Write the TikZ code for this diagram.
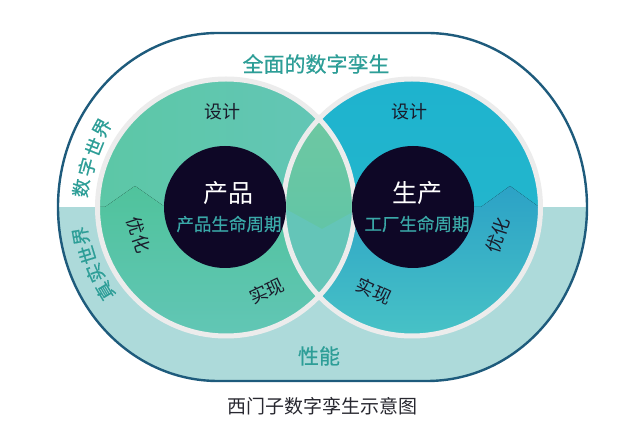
\documentclass[tikz,border=0pt]{standalone}
\usepackage{fontspec}
\setmainfont{Noto Sans CJK SC}
\newfontfamily\headfont[FakeBold=0.6]{Noto Sans CJK SC}
\definecolor{rim}{HTML}{1E5B7C}
\definecolor{band}{HTML}{ADDADA}
\definecolor{seam}{HTML}{ECECEC}
\definecolor{coreink}{HTML}{0E0726}
\definecolor{tealink}{HTML}{2D9E97}
\definecolor{lifeink}{HTML}{3AA8A8}
\definecolor{labelink}{HTML}{1A1A2A}
\definecolor{captionink}{HTML}{282830}
\definecolor{leafL}{HTML}{5CC7A6}
\definecolor{leafR}{HTML}{64C6B8}
\definecolor{leafLow}{HTML}{50C39C}
\definecolor{leafLowB}{HTML}{62C6B6}
\definecolor{skyT}{HTML}{1EB3CE}
\definecolor{skyB}{HTML}{26B8CC}
\definecolor{skyLow}{HTML}{2CA2C6}
\definecolor{skyLowB}{HTML}{48C3C6}
\definecolor{lensT}{HTML}{72C9A0}
\definecolor{lensB}{HTML}{62C5A6}
\definecolor{lensLow}{HTML}{64C5B8}
\newcommand\twinrim{(218,33) -- (427,33) arc[start angle=-90,end angle=90,x radius=160,y radius=174]
  -- (218,381) arc[start angle=90,end angle=270,x radius=160,y radius=174] -- cycle}
\newcommand\lowpart{(40,207) -- (105,207) -- (135,186) -- (165,207) -- (282,207) -- (322,229)
  -- (362,207) -- (481,207) -- (510,186) -- (539,207) -- (600,207) -- (600,400) -- (40,400) -- cycle}
\begin{document}
\begin{tikzpicture}[x=1pt,y=-1pt,
    rimline/.style={draw=rim,line width=2.4pt},
    wheel/.style={draw=seam,line width=5pt},
    core/.style={fill=coreink},
    lbl/.style={text=labelink,font=\fontsize{18}{18}\selectfont,inner sep=0pt},
    big/.style={text=tealink,font=\headfont\fontsize{21}{21}\selectfont,inner sep=0pt},
    world/.style={text=tealink,font=\headfont\fontsize{18.5}{18.5}\selectfont,inner sep=0pt}]
  \useasboundingbox (0,0) rectangle (630,427);
  % outer frame and the real-world band
  \fill[white] \twinrim;
  \begin{scope}
    \clip \twinrim;
    \fill[band] (40,207) rectangle (600,400);
  \end{scope}
  \draw[rimline] \twinrim;
  % the two wheels
  \fill[left color=leafL,right color=leafR] (226,207.5) circle[radius=129];
  \fill[top color=skyT,bottom color=skyB] (412,207.5) circle[radius=129];
  \begin{scope}
    \clip (226,207.5) circle[radius=129];
    \clip \lowpart;
    \fill[top color=leafLow,bottom color=leafLowB] (90,186) rectangle (360,340);
  \end{scope}
  \begin{scope}
    \clip (412,207.5) circle[radius=129];
    \clip \lowpart;
    \fill[top color=skyLow,bottom color=skyLowB] (280,186) rectangle (545,340);
  \end{scope}
  \begin{scope}
    \clip (226,207.5) circle[radius=129];
    \clip (412,207.5) circle[radius=129];
    \fill[top color=lensT,bottom color=lensB] (280,75) rectangle (360,230);
    \clip \lowpart;
    \fill[lensLow] (280,180) rectangle (360,340);
  \end{scope}
  \draw[wheel] (226,207.5) circle[radius=128.5];
  \draw[wheel] (412,207.5) circle[radius=128.5];
  \fill[core] (225,207) circle[radius=61];
  \fill[core] (413,207) circle[radius=61];
  % labels
  \node[big] (title) at (316,64) {全面的数字孪生};
  \node[big] (perf) at (319,356) {性能};
  \foreach \c/\x/\y/\r [count=\i] in {数/81/188/82, 字/87/167/75, 世/94/147/68, 界/102/128/61}
    \node[world,rotate=\r] (digital\i) at (\x,\y) {\c};
  \foreach \c/\x/\y/\r [count=\i] in {真/105/291/121, 实/95/273/114, 世/87/255/107, 界/81/236/100}
    \node[world,rotate=\r] (real\i) at (\x,\y) {\c};
  \node[lbl] (design1) at (222,112) {设计};
  \node[lbl] (design2) at (409,112) {设计};
  \node[lbl,rotate=-72] (optim1) at (139,235) {优化};
  \node[lbl,rotate=25] (build1) at (267,291) {实现};
  \node[lbl,rotate=-25] (build2) at (374,291) {实现};
  \node[lbl,rotate=72] (optim2) at (498,235) {优化};
  \node[text=white,font=\fontsize{25}{25}\selectfont,inner sep=0pt] (product) at (228,193) {产品};
  \node[text=white,font=\fontsize{25}{25}\selectfont,inner sep=0pt] (production) at (417,193) {生产};
  \node[text=lifeink,font=\headfont\fontsize{17.5}{17.5}\selectfont,inner sep=0pt] (plm) at (229,224) {产品生命周期};
  \node[text=lifeink,font=\headfont\fontsize{17.5}{17.5}\selectfont,inner sep=0pt] (flm) at (417,224) {工厂生命周期};
  \node[text=captionink,font=\fontsize{19}{19}\selectfont,inner sep=0pt] (caption) at (322,406) {西门子数字孪生示意图};
\end{tikzpicture}
\end{document}
